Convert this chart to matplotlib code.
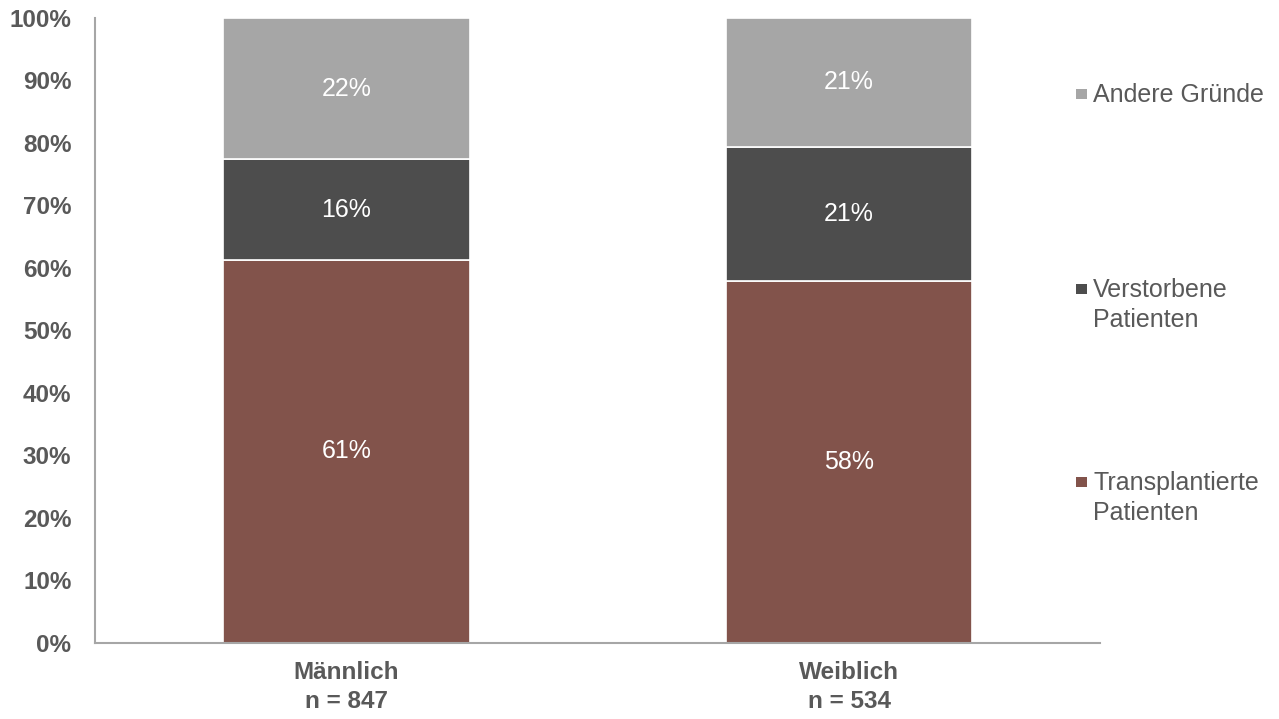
import numpy as np
import matplotlib.pyplot as plt
from matplotlib.patches import Rectangle

plt.rcParams['font.family'] = ['Liberation Sans', 'DejaVu Sans']

# data (percent of patients leaving the waiting list)
groups = ["Männlich\nn = 847", "Weiblich\nn = 534"]
transplantiert = [61.3, 57.9]
verstorben = [16.1, 21.5]
andere = [22.6, 20.6]
labels_trans = ["61%", "58%"]
labels_verst = ["16%", "21%"]
labels_andere = ["22%", "21%"]

series_names = ["Transplantierte\nPatienten", "Verstorbene\nPatienten", "Andere Gründe"]
colors = ["#82534B", "#4D4D4D", "#A6A6A6"]
text_grey = "#595959"

fig = plt.figure(figsize=(12.79, 7.19), dpi=100)
ax = fig.add_axes([0.0743, 0.1057, 0.786, 0.8693])

x = np.arange(len(groups))
w = 0.49
bottom = np.zeros(len(groups))
for vals, labs, c in zip([transplantiert, verstorben, andere],
                         [labels_trans, labels_verst, labels_andere], colors):
    bars = ax.bar(x, vals, w, bottom=bottom, color=c, edgecolor="white", linewidth=1.2)
    ax.bar_label(bars, labels=labs, label_type="center", color="white", fontsize=18)
    bottom += np.array(vals)

ax.set_xlim(-0.5, 1.5)
ax.set_ylim(0, 100)
ax.set_yticks(np.arange(0, 101, 10))
ax.set_yticklabels([f"{v}%" for v in range(0, 101, 10)])
ax.set_xticks(x)
ax.set_xticklabels(groups, linespacing=1.35)

for lab in ax.get_yticklabels() + ax.get_xticklabels():
    lab.set_fontweight("bold")
    lab.set_color(text_grey)
    lab.set_fontsize(17.5)
ax.tick_params(axis="y", length=0, pad=17)
ax.tick_params(axis="x", length=0, pad=13)

for s in ["top", "right"]:
    ax.spines[s].set_visible(False)
for s in ["left", "bottom"]:
    ax.spines[s].set_color("#A6A6A6")
    ax.spines[s].set_linewidth(1.5)

# legend on the right, square aligned with the first text line
first_base = [490, 297, 102]   # baseline of first line, pixels from top
line_h = 30
W, H = 1279, 719
for name, c, yb in zip(series_names, colors, first_base):
    n_lines = name.count("\n") + 1
    last_base = yb + (n_lines - 1) * line_h
    fig.add_artist(Rectangle((1076 / W, 1 - (yb - 3) / H), 11 / W, 10 / H,
                             transform=fig.transFigure, color=c, lw=0))
    fig.text(1093 / W, 1 - last_base / H, name, color=text_grey, fontsize=18,
             ha="left", va="baseline", linespacing=1.34)

fig.savefig("out.png", dpi=100)
